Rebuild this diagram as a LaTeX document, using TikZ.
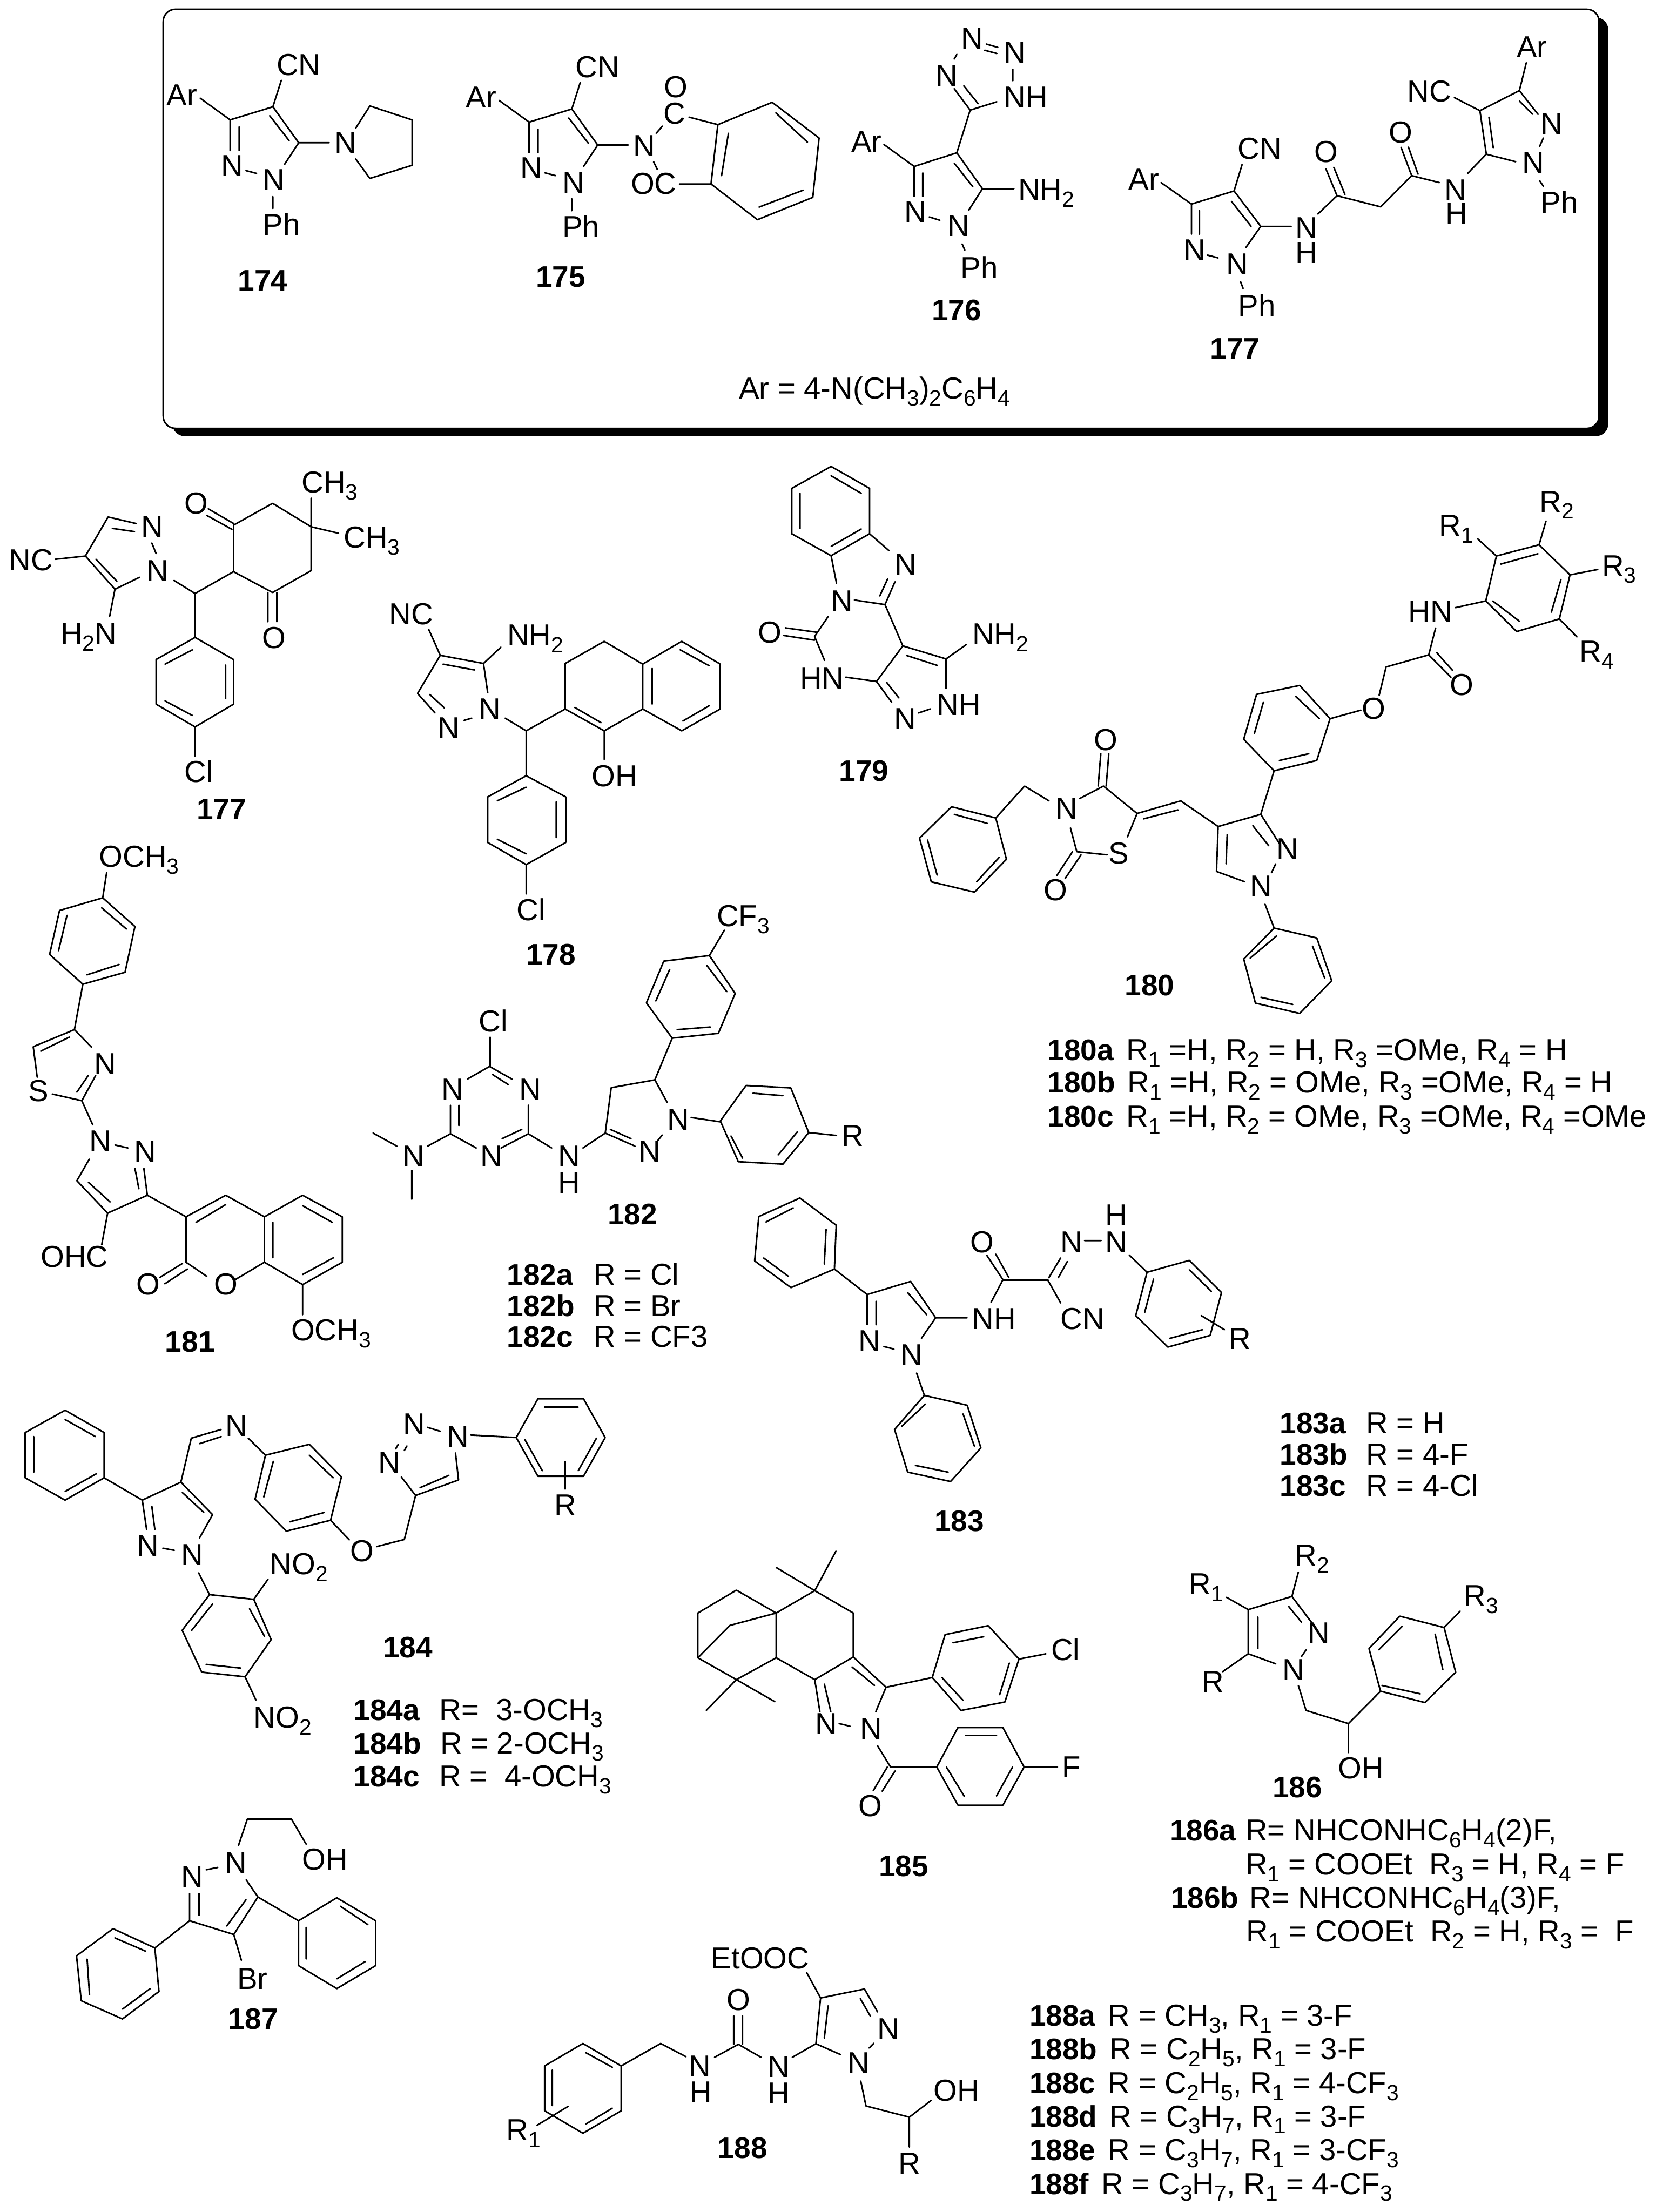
\documentclass[tikz,border=0pt]{standalone}
\usepackage{fontspec}
\setmainfont{Liberation Sans}
\newcounter{labn}
\newcommand\sbs[1]{\raisebox{-0.23em}{\fontsize{12.9}{13}\selectfont #1}}
\newcommand\lab[2]{\stepcounter{labn}\node[atom] (a\thelabn) at (#1) {#2};}
\newcommand\blab[2]{\stepcounter{labn}\node[cpd] (a\thelabn) at (#1) {#2};}
\tikzset{
 atom/.style={anchor=base west,inner sep=0pt,outer sep=0pt,font=\fontsize{17.8}{19}\selectfont},
 cpd/.style={anchor=base west,inner sep=0pt,outer sep=0pt,font=\fontsize{17.4}{19}\selectfont\bfseries},
 bd/.style={draw=black,line width=0.9pt,line cap=round,line join=round},
 z0/.style={x=.01cm,y=-.01cm},
 z1/.style={x=.010842cm,y=-.00574cm,shift={(3cm,0cm)}},
 z2/.style={x=.010976cm,y=-.00574cm,shift={(17cm,0cm)}},
 z3/.style={x=.010842cm,y=-.006696cm,shift={(0cm,-9.5cm)}},
 z4/.style={x=.010976cm,y=-.009247cm,shift={(17cm,-9.5cm)}},
 z5/.style={x=.010204cm,y=-.007653cm,shift={(0cm,-16.5cm)}},
 z6/.style={x=.012251cm,y=-.005102cm,shift={(15cm,-24cm)}},
 z7/.style={x=.008929cm,y=-.006378cm,shift={(0cm,-28cm)}},
 z8/.style={x=.013208cm,y=-.005421cm,shift={(13.5cm,-31cm)}},
 z9/.style={x=.012117cm,y=-.005434cm,shift={(0cm,-37cm)}},
 z10/.style={x=.0097cm,y=-.004796cm,shift={(19cm,-38cm)}},
 z11/.style={x=.004464cm,y=-.004464cm,shift={(15.5cm,-9.5cm)}},
 z12/.style={x=.003839cm,y=-.003839cm,shift={(14cm,-39.5cm)}},
}
\begin{document}
\begin{tikzpicture}
\useasboundingbox (0,0) rectangle (34.21,-45.52);
\fill[white] (0,0) rectangle (34.21,-45.52);
% frame
\begin{scope}[z0]
\fill[black,rounded corners=.25cm] (355,36) rectangle (3311,898);
\draw[bd,fill=white,rounded corners=.25cm] (336,19) rectangle (3292,882);
\end{scope}
% 174, 175
\begin{scope}[z1]
\lab{248,270}{CN}\lab{40,378}{Ar}\lab{143,632}{N}\lab{222,683}{N}\lab{222,843}{Ph}\lab{358,550}{N}\blab{175,1043}{174}
\draw[bd] (103,352)--(160,430)--(241,383)--(290,512)--(263,590) (235,415)--(272,505) (241,383)--(257,288)
 (160,430)--(160,540) (177,455)--(177,540) (190,612)--(210,622) (290,512)--(348,512) (241,705)--(241,748)
 (398,460)--(425,380)--(505,430)--(505,593)--(425,640)--(398,570);
\lab{815,278}{CN}\lab{607,386}{Ar}\lab{710,640}{N}\lab{790,692}{N}\lab{790,852}{Ph}\lab{925,560}{N}
\lab{982,445}{C}\lab{983,350}{O}\lab{920,697}{OC}\blab{740,1030}{175}
\draw[bd] (670,360)--(727,438)--(808,391)--(857,520)--(830,598) (802,423)--(839,513) (808,391)--(824,296)
 (727,438)--(727,548) (744,463)--(744,548) (757,620)--(777,630) (857,520)--(915,520) (808,713)--(808,756)
 (968,478)--(980,452) (963,580)--(970,607) (1030,420)--(1085,447) (1012,660)--(1072,660)
 (1085,447)--(1188,367)--(1277,495)--(1265,708)--(1160,788)--(1072,660)--cycle
 (1105,478)--(1092,630) (1195,405)--(1255,510) (1247,682)--(1163,743);
\lab{1125,1430}{Ar = 4-N(CH\sbs{3})\sbs{2}C\sbs{6}H\sbs{4}}
\end{scope}
% 176, 177 top
\begin{scope}[z2]
\lab{253,175}{N}\lab{333,225}{N}\lab{205,308}{N}\lab{333,387}{NH}\lab{47,545}{Ar}\lab{360,718}{NH\sbs{2}}
\lab{147,798}{N}\lab{228,848}{N}\lab{252,998}{Ph}\blab{198,1150}{176}
\draw[bd] (300,158)--(322,170) (297,180)--(320,192) (245,195)--(240,212) (350,248)--(350,290)
 (240,318)--(270,395)--(320,365) (258,308)--(285,372) (270,395)--(245,548)
 (108,518)--(165,597)--(245,548)--(293,677)--(267,755) (240,585)--(275,670) (293,677)--(352,677)
 (165,597)--(165,705) (181,620)--(181,705) (193,778)--(213,790) (255,875)--(260,898);
\lab{1295,207}{Ar}\lab{1090,365}{NC}\lab{1340,482}{N}\lab{1305,620}{N}\lab{1340,765}{Ph}\lab{1055,513}{O}
\lab{1160,720}{N}\lab{1162,803}{H}\lab{915,582}{O}\lab{880,855}{N}\lab{880,945}{H}\lab{772,570}{CN}
\lab{567,680}{Ar}\lab{670,935}{N}\lab{750,985}{N}\lab{773,1135}{Ph}\blab{720,1288}{177}
\draw[bd] (1313,225)--(1300,325)--(1226,397)--(1178,350) (1300,325)--(1335,410) (1300,362)--(1325,410)
 (1226,397)--(1238,553)--(1293,580) (1243,420)--(1251,530) (1345,495)--(1338,525) (1338,648)--(1345,668)
 (1238,553)--(1203,622) (1150,655)--(1098,630)--(1078,528) (1110,625)--(1092,528) (1098,630)--(1040,742)--(958,702)--(937,605)
 (973,698)--(952,600) (958,702)--(922,768)
 (628,655)--(685,732)--(765,685)--(815,812)--(787,888) (760,722)--(797,812) (765,685)--(780,590) (815,812)--(872,812)
 (685,732)--(685,840) (700,755)--(700,840) (715,915)--(735,925) (777,1010)--(782,1035);
\end{scope}
% 177, 178
\begin{scope}[z3]
\lab{572,95}{CH\sbs{3}}\lab{652,265}{CH\sbs{3}}\lab{350,160}{O}\lab{268,232}{N}\lab{278,368}{N}\lab{17,335}{NC}
\lab{115,560}{H\sbs{2}N}\lab{497,573}{O}\lab{350,985}{Cl}\blab{373,1100}{177}
\draw[bd] (105,300)--(162,290)--(205,170)--(258,190) (213,205)--(255,215) (288,250)--(296,282) (265,355)--(218,392)--(162,290)
 (222,368)--(182,300) (218,392)--(208,475) (330,365)--(370,405)--(443,338) (370,405)--(370,540)
 (443,338)--(443,195)--(517,128)--(590,200)--(590,335)--(517,402)--cycle
 (443,190)--(395,145) (440,208)--(392,165) (508,402)--(508,492) (525,402)--(525,492) (590,200)--(590,112) (590,200)--(642,220)
 (370,540)--(443,608)--(443,745)--(370,815)--(296,745)--(296,608)--cycle
 (365,578)--(313,622) (428,625)--(428,728) (313,735)--(365,780) (370,815)--(370,905);
\lab{738,500}{NC}\lab{962,565}{NH\sbs{2}}\lab{908,793}{N}\lab{830,850}{N}\lab{1122,998}{OH}\lab{980,1410}{Cl}\blab{998,1545}{178}
\draw[bd] (813,515)--(835,595)--(917,620)--(950,570) (840,622)--(900,640) (917,620)--(925,710) (835,595)--(792,712)--(825,772)
 (815,715)--(843,757) (880,795)--(895,788) (958,788)--(998,827)--(1072,760) (998,827)--(998,965)
 (1072,760)--(1072,620)--(1146,552)--(1219,622)--(1219,760)--(1146,827)--cycle (1090,755)--(1140,802)
 (1219,622)--(1293,552)--(1366,622)--(1366,760)--(1293,827)--(1219,760) (1290,578)--(1345,627) (1345,750)--(1295,797) (1237,635)--(1237,745)
 (1146,827)--(1146,915)
 (998,965)--(1073,1030)--(1073,1170)--(998,1238)--(925,1170)--(925,1030)--cycle
 (998,1000)--(943,1042) (1055,1045)--(1055,1155) (943,1160)--(998,1205) (998,1238)--(998,1328);
\end{scope}
% 179
\begin{scope}[z11]
\lab{650,522}{N}\lab{358,690}{N}\lab{22,835}{O}\lab{1008,843}{NH\sbs{2}}\lab{215,1045}{HN}\lab{845,1168}{NH}\lab{648,1233}{N}\blab{395,1472}{179}
\draw[bd] (358,22)--(535,123)--(535,332)--(358,433)--(177,332)--(177,123)--cycle
 (358,65)--(497,146) (215,146)--(215,308) (358,390)--(497,310)
 (535,332)--(625,410) (358,433)--(383,560) (652,553)--(606,658)--(465,637) (618,540)--(582,618) (606,658)--(688,848)
 (345,712)--(282,805)--(328,915) (147,765)--(290,785) (140,800)--(282,822) (425,992)--(567,1012)--(688,848)--(887,908)--(980,842)
 (705,892)--(847,938) (887,908)--(887,1045) (567,1012)--(637,1108) (613,1015)--(670,1088) (760,1157)--(815,1138);
\end{scope}
% 180
\begin{scope}[z4]
\lab{1150,165}{R\sbs{1}}\lab{1338,112}{R\sbs{2}}\lab{1455,255}{R\sbs{3}}\lab{1413,445}{R\sbs{4}}\lab{1092,357}{HN}\lab{1170,520}{O}
\lab{1005,573}{O}\lab{502,642}{O}\lab{430,795}{N}\lab{530,895}{S}\lab{408,977}{O}\lab{845,885}{N}\lab{795,968}{N}\blab{560,1188}{180}
\draw[bd] (1257,210)--(1337,185)--(1395,252)--(1375,350)--(1295,378)--(1237,310)--cycle
 (1265,228)--(1335,205) (1378,262)--(1360,335) (1300,355)--(1250,310)
 (1222,172)--(1257,210) (1337,185)--(1350,132) (1395,252)--(1447,240) (1375,350)--(1408,390)
 (1180,325)--(1237,310) (1143,370)--(1130,430)--(1172,480) (1145,425)--(1175,465) (1130,430)--(1050,457)--(1037,520)
 (1003,553)--(945,572)
 (945,572)--(888,498)--(807,518)--(783,618)--(840,688)--(920,665)--cycle
 (925,572)--(880,522) (820,535)--(803,605) (850,665)--(905,650) (840,688)--(815,785)
 (815,785)--(735,812)--(732,912)--(785,935) (752,830)--(750,895) (815,785)--(850,850) (800,810)--(830,855)
 (843,895)--(835,915) (823,985)--(840,1038) (735,812)--(665,755)--(583,783)--(565,835) (660,775)--(595,795)
 (583,783)--(520,722)--(475,750) (510,722)--(515,650) (525,722)--(530,650)
 (418,755)--(372,722)--(318,793) (458,815)--(470,868)--(527,875) (462,868)--(432,922) (478,875)--(448,928)
 (318,793)--(235,768)--(175,838)--(197,935)--(278,958)--(338,885)--cycle
 (302,805)--(240,785) (190,842)--(208,920) (282,935)--(325,880)
 (840,1038)--(920,1060)--(948,1155)--(888,1228)--(805,1205)--(783,1107)--cycle
 (912,1078)--(935,1150) (875,1208)--(815,1192) (795,1105)--(845,1055);
\blab{415,1333}{180a}\lab{563,1333}{R\sbs{1} =H, R\sbs{2} = H, R\sbs{3} =OMe, R\sbs{4} = H}
\blab{415,1405}{180b}\lab{565,1405}{R\sbs{1} =H, R\sbs{2} = OMe, R\sbs{3} =OMe, R\sbs{4} = H}
\blab{415,1480}{180c}\lab{563,1480}{R\sbs{1} =H, R\sbs{2} = OMe, R\sbs{3} =OMe, R\sbs{4} =OMe}
\end{scope}
% 181, 182
\begin{scope}[z5]
\lab{200,175}{OCH\sbs{3}}\lab{190,733}{N}\lab{57,805}{S}\lab{180,940}{N}\lab{270,968}{N}\lab{82,1250}{OHC}\lab{275,1325}{O}\lab{432,1325}{O}
\lab{587,1447}{OCH\sbs{3}}\blab{333,1478}{181}
\draw[bd] (215,190)--(207,258) (207,258)--(272,335)--(252,458)--(167,490)--(100,410)--(120,292)--cycle
 (205,285)--(255,342) (240,437)--(175,465) (118,400)--(135,305) (167,490)--(150,612)--(185,660)
 (150,612)--(67,658)--(75,740) (140,632)--(82,670) (105,785)--(165,803)--(193,735) (155,780)--(178,735) (165,803)--(187,868)
 (232,922)--(258,930) (180,960)--(155,1018)--(217,1105)--(297,1057)--(290,985) (178,1022)--(222,1075) (280,1040)--(272,985)
 (217,1105)--(205,1190) (297,1057)--(375,1115)
 (375,1115)--(455,1057)--(533,1115)--(533,1237)--(475,1283) (375,1115)--(375,1237)--(417,1275) (395,1130)--(455,1082)
 (368,1240)--(322,1278) (378,1255)--(332,1295)
 (533,1115)--(610,1057)--(690,1115)--(690,1237)--(610,1297)--(533,1237) (610,1085)--(670,1130) (672,1225)--(610,1270) (550,1130)--(550,1225)
 (610,1297)--(610,1378);
\lab{965,618}{Cl}\lab{890,800}{N}\lab{1047,800}{N}\lab{968,980}{N}\lab{812,980}{N}\lab{1125,980}{N}\lab{1125,1052}{H}
\lab{1345,882}{N}\lab{1287,968}{N}\lab{1445,335}{CF\sbs{3}}\blab{1225,1135}{182}
\blab{1022,1298}{182a}\lab{1197,1298}{R = Cl}\blab{1022,1382}{182b}\lab{1197,1382}{R = Br}\blab{1022,1465}{182c}\lab{1197,1465}{R = CF3}
\draw[bd] (988,632)--(988,710)--(942,745) (988,712)--(1032,745) (992,732)--(1025,760) (908,815)--(908,892)--(960,930)
 (925,815)--(925,870) (908,892)--(862,925) (800,925)--(752,890) (830,990)--(830,1068)
 (1010,930)--(1065,892)--(1065,815) (1012,905)--(1052,880) (1065,892)--(1112,930) (1175,930)--(1220,890)--(1280,925)
 (1230,880)--(1272,905) (1220,890)--(1232,768)--(1320,747)--(1345,808) (1323,915)--(1335,895) (1320,747)--(1355,635)
 (1355,635)--(1448,622)--(1482,515)--(1430,413)--(1338,428)--(1303,540)--cycle
 (1365,612)--(1432,605) (1465,510)--(1425,440) (1350,450)--(1322,535) (1430,413)--(1460,345) (1393,848)--(1453,860);
\end{scope}
\begin{scope}[z0]
\draw[bd] (1483,2308)--(1536,2235)--(1628,2240)--(1665,2332)--(1612,2397)--(1520,2392)--cycle
 (1505,2339)--(1529,2385) (1550,2251)--(1612,2256) (1602,2378)--(1642,2330) (1665,2332)--(1722,2338);
\lab{1733,2360}{R}
\end{scope}
% 183
\begin{scope}[z6]
\lab{632,240}{H}\lab{557,348}{N}\lab{632,348}{N}\lab{405,348}{O}\lab{408,658}{NH}\lab{557,658}{CN}\lab{840,738}{R}\lab{217,748}{N}\lab{288,805}{N}
\blab{345,1473}{183}
\blab{925,1080}{183a}\lab{1070,1080}{R = H}\blab{925,1205}{183b}\lab{1070,1205}{R = 4-F}\blab{925,1332}{183c}\lab{1070,1332}{R = 4-Cl}
\draw[bd] (177,415)--(180,238)--(119,128)--(50,203)--(43,382)--(104,490)--cycle
 (160,395)--(163,255) (108,168)--(62,225) (58,370)--(100,445) (177,415)--(232,518)--(305,465)--(347,612)--(323,695)
 (300,510)--(332,600) (347,612)--(400,612) (232,518)--(232,640) (247,545)--(247,640) (260,728)--(277,738) (315,835)--(328,925)
 (328,925)--(400,965)--(423,1137)--(372,1273)--(300,1235)--(278,1063)--cycle
 (330,960)--(290,1050) (393,1000)--(412,1130) (368,1235)--(313,1208)
 (440,550)--(460,458)--(433,360) (470,450)--(448,355) (537,450)--(557,370) (553,450)--(568,385) (535,458)--(557,552)
 (597,300)--(625,300) (672,358)--(702,428)
 (702,428)--(773,380)--(827,510)--(808,683)--(737,730)--(683,603)--cycle
 (713,455)--(698,590) (773,418)--(810,505) (740,695)--(795,660) (793,603)--(832,660);
\draw[bd,line width=1.2pt] (460,458)--(535,458);
\end{scope}
% 184
\begin{scope}[z7]
\lab{520,243}{N}\lab{930,238}{N}\lab{1030,278}{N}\lab{872,362}{N}\lab{808,648}{O}\lab{315,630}{N}\lab{418,660}{N}
\lab{622,690}{NO\sbs{2}}\lab{585,1185}{NO\sbs{2}}\lab{1278,500}{R}\blab{883,958}{184}
\blab{815,1160}{184a}\lab{1013,1160}{R=\ \ 3-OCH\sbs{3}}\blab{815,1268}{184b}\lab{1015,1268}{R = 2-OCH\sbs{3}}\blab{815,1375}{184c}\lab{1013,1375}{R =\ \ 4-OCH\sbs{3}}
\draw[bd] (240,378)--(240,232)--(150,160)--(58,232)--(58,378)--(150,450)--cycle
 (150,190)--(220,245) (78,245)--(78,360) (150,422)--(222,365) (240,378)--(328,450)--(417,392)--(490,497)--(460,572)
 (420,425)--(470,490) (328,450)--(338,545) (350,470)--(357,545) (375,605)--(402,612) (417,392)--(441,250)--(510,222)
 (460,268)--(510,245) (572,250)--(612,305)
 (612,305)--(713,270)--(787,375)--(762,515)--(660,550)--(588,447)--cycle
 (713,305)--(768,378) (747,490)--(668,520) (608,440)--(630,325) (762,515)--(805,578) (868,600)--(932,577)--(958,435)--(1057,385)--(1050,298)
 (968,410)--(1035,370) (985,215)--(1015,228) (918,270)--(912,285) (938,275)--(932,290) (958,435)--(925,375) (1085,240)--(1190,248)
 (1190,248)--(1240,123)--(1345,123)--(1395,248)--(1345,373)--(1240,373)--cycle
 (1255,150)--(1333,150) (1210,255)--(1250,355) (1375,250)--(1333,355) (1303,325)--(1303,415)
 (458,685)--(483,755) (483,755)--(585,770)--(625,900)--(565,1020)--(465,1005)--(420,870)--cycle
 (490,785)--(442,870) (575,800)--(610,890) (555,992)--(475,980) (585,770)--(618,705) (565,1020)--(590,1095);
\end{scope}
% 185, 186
\begin{scope}[z8]
\lab{248,865}{N}\lab{318,885}{N}\lab{315,1178}{O}\lab{632,1030}{F}\lab{615,585}{Cl}\blab{347,1405}{185}
\draw[bd] (280,170)--(247,320)--(187,232) (247,320)--(307,405)--(307,572)--(247,658)--(187,575)--(187,405)--(247,320)
 (187,405)--(125,318)--(65,405)--(65,575)--(115,452)--(187,405) (65,575)--(125,658)--(187,575) (125,658)--(185,742) (125,658)--(78,775)
 (307,572)--(358,687)--(342,780) (305,610)--(340,680) (247,658)--(255,780) (262,675)--(272,780) (285,825)--(302,835) (358,687)--(430,650)
 (430,650)--(450,487)--(517,453)--(565,580)--(543,743)--(475,775)--cycle
 (462,518)--(510,495) (550,595)--(535,715) (478,737)--(445,650) (565,580)--(607,560)
 (345,910)--(365,990)--(437,990) (360,990)--(338,1080) (372,1005)--(352,1082)
 (437,990)--(470,840)--(540,840)--(573,990)--(540,1135)--(470,1135)--cycle
 (482,870)--(530,870) (555,990)--(530,1100) (480,1102)--(452,990) (573,990)--(625,990);
\lab{830,335}{R\sbs{1}}\lab{995,225}{R\sbs{2}}\lab{1258,380}{R\sbs{3}}\lab{1015,522}{N}\lab{975,660}{N}\lab{850,705}{R}\lab{1062,1035}{OH}\blab{960,1105}{186}
\draw[bd] (1000,250)--(990,342)--(922,392)--(888,345) (990,342)--(1022,445) (985,380)--(1005,440) (922,392)--(922,560)--(965,598)
 (937,420)--(937,540) (1012,545)--(1005,570) (922,560)--(882,628) (1000,680)--(1012,775)--(1078,825)--(1078,935) (1078,825)--(1128,702)
 (1128,702)--(1197,745)--(1245,630)--(1227,460)--(1158,417)--(1110,540)--cycle
 (1130,680)--(1190,712) (1225,620)--(1213,485) (1162,455)--(1125,545) (1227,460)--(1252,398);
\blab{800,1270}{186a}\lab{918,1270}{R= NHCONHC\sbs{6}H\sbs{4}(2)F,}
\lab{918,1400}{R\sbs{1} = COOEt\ \ R\sbs{3} = H, R\sbs{4} = F}
\end{scope}
\begin{scope}[z10]
\blab{525,265}{186b}\lab{692,265}{R= NHCONHC\sbs{6}H\sbs{4}(3)F,}
\lab{685,408}{R\sbs{1} = COOEt\ \ R\sbs{2} = H, R\sbs{3} =\ \ F}
\blab{225,770}{188a}\lab{392,770}{R = CH\sbs{3}, R\sbs{1} = 3-F}
\blab{225,915}{188b}\lab{395,915}{R = C\sbs{2}H\sbs{5}, R\sbs{1} = 3-F}
\blab{225,1060}{188c}\lab{392,1060}{R = C\sbs{2}H\sbs{5}, R\sbs{1} = 4-CF\sbs{3}}
\blab{225,1203}{188d}\lab{395,1203}{R = C\sbs{3}H\sbs{7}, R\sbs{1} = 3-F}
\blab{225,1348}{188e}\lab{392,1348}{R = C\sbs{3}H\sbs{7}, R\sbs{1} = 3-CF\sbs{3}}
\blab{225,1493}{188f}\lab{378,1493}{R = C\sbs{3}H\sbs{7}, R\sbs{1} = 4-CF\sbs{3}}
\end{scope}
% 187, 188 left
\begin{scope}[z9]
\lab{382,285}{N}\lab{308,338}{N}\lab{513,272}{OH}\lab{403,725}{Br}\blab{388,875}{187}
\draw[bd] (405,180)--(420,80)--(495,80)--(520,175) (350,272)--(370,263) (418,310)--(438,375)--(397,517)--(322,465)--(322,362)
 (418,385)--(385,485) (338,445)--(338,362) (397,517)--(410,615) (438,375)--(507,465)
 (507,465)--(572,378)--(638,465)--(638,635)--(572,722)--(507,635)--cycle
 (578,410)--(625,480) (620,620)--(572,685) (520,490)--(520,610) (322,465)--(263,568)
 (263,568)--(192,495)--(130,598)--(138,768)--(208,837)--(270,733)--cycle
 (195,530)--(247,580) (148,610)--(152,745) (208,800)--(255,722);
\lab{860,1297}{R\sbs{1}}\lab{1170,1055}{N}\lab{1172,1155}{H}
\draw[bd] (1055,1015)--(990,930)--(925,1015)--(925,1185)--(990,1270)--(1055,1185)--cycle
 (995,965)--(1040,1020) (938,1030)--(938,1165) (1040,1175)--(995,1235) (912,1240)--(965,1168) (1055,1015)--(1122,930)--(1165,980);
\end{scope}
\begin{scope}[z12]
\lab{468,843}{N}\lab{468,985}{H}\lab{248,485}{O}\lab{165,262}{EtOOC}\lab{1055,642}{N}\lab{895,825}{N}\lab{1355,972}{OH}\lab{1167,1362}{R}\blab{200,1278}{188}
\draw[bd] (182,738)--(310,668)--(432,738) (285,515)--(285,668) (332,515)--(332,668) (598,738)--(725,665)--(857,723)
 (725,665)--(750,420)--(675,283) (770,635)--(790,462) (750,420)--(985,372)--(1055,495) (962,423)--(1017,518) (1010,688)--(1035,662)
 (965,865)--(993,998)--(1225,1058)--(1342,968) (1225,1058)--(1225,1218);
\end{scope}
\end{tikzpicture}
\end{document}
